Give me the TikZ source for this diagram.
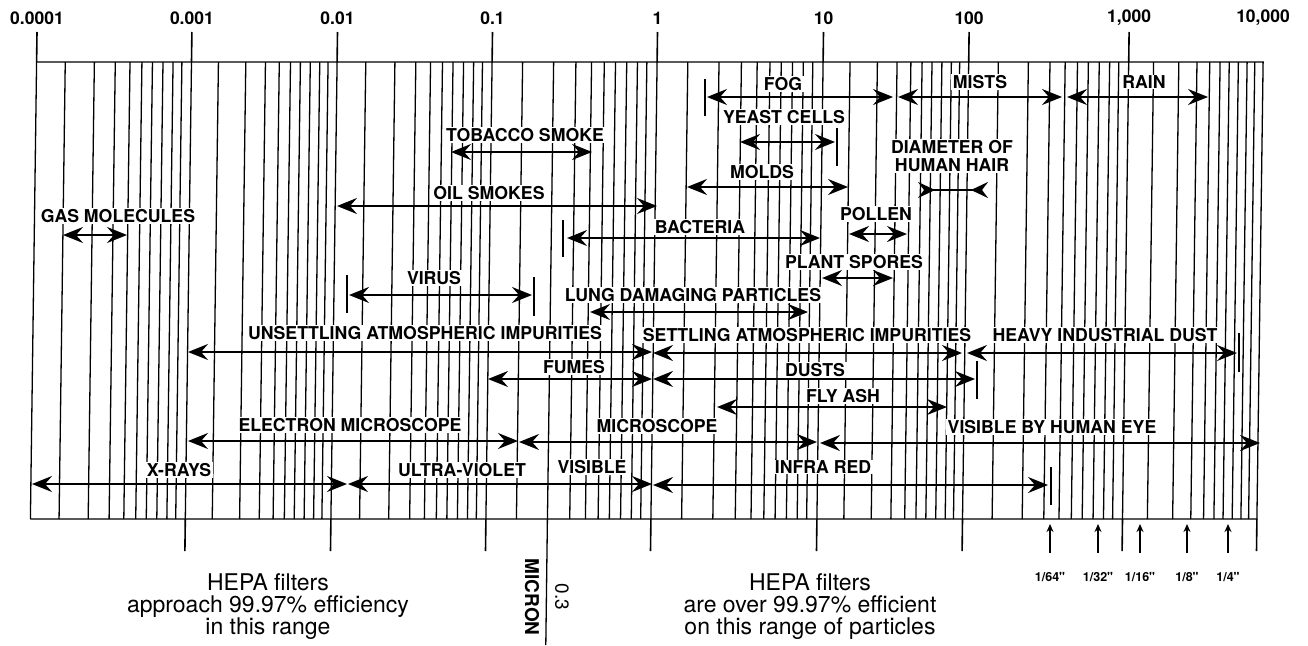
\documentclass[tikz,border=0pt]{standalone}
\usepackage{fontspec}
\setmainfont{TeX Gyre Heros}
\usetikzlibrary{arrows.meta}

\begin{document}
\begin{tikzpicture}[x=1pt,y=-1pt,
  scaleline/.style={line width=1.3pt},
  decadetick/.style={line width=1.6pt},
  rng/.style={line width=2.2pt,{Stealth[length=20pt,width=16pt,inset=7pt]}-{Stealth[length=20pt,width=16pt,inset=7pt]}},
  rngin/.style={line width=2.2pt,{Stealth[length=17pt,width=16pt,inset=6pt,reversed]}-{Stealth[length=17pt,width=16pt,inset=6pt,reversed]}},
  endbar/.style={line width=2.6pt},
  lbl/.style={fill=white,inner xsep=2pt,inner ysep=1pt,font=\bfseries\fontsize{17.7}{18}\selectfont},
  scalelbl/.style={font=\bfseries\fontsize{17.5}{18}\selectfont},
  inchlbl/.style={font=\bfseries\fontsize{12.5}{12}\selectfont},
  note/.style={align=center,font=\fontsize{23}{22}\selectfont}]
\useasboundingbox (0,0) rectangle (1308,645);
% decade lines and the nine lines between them (the chart leans a little)
\foreach \a/\b in {33.5/188.4,188.4/334,334/489,489/654,654/820,820/965.6,965.6/1125.6,1125.6/1260}{
  \draw[scaleline] (\a+3.1,62) -- (\a-3.1,519);
  \foreach \f in {0.185,0.373,0.508,0.603,0.680,0.748,0.816,0.881,0.938}
    \draw[scaleline] ({\a+\f*(\b-\a)+3.1},62) -- ({\a+\f*(\b-\a)-3.1},519);
}
\draw[scaleline] (36.6,62) -- (1263.1,62) -- (1256.9,519) -- (30.4,519);
\draw[scaleline] (547.4,519) -- (545.8,645);
% scale in microns
\foreach \x/\t [count=\i] in {33.5/0.0001,188.4/0.001,334/0.01,489/0.1,654/1,820/10,965.6/100,1125.6/{1,000}}{
  \draw[decadetick] (\x+3.5,32) -- (\x+3.1,62);
  \node[scalelbl] (top\i) at (\x+3.5,18) {\t};
}
\node[scalelbl] (top9) at (1263,18) {10,000};
\foreach \x in {188.4,334,489,654,820,965.6,1125.6,1260}
  \draw[decadetick] (\x-3.1,519) -- (\x-3.5,551);
\node[rotate=-90,font=\bfseries\fontsize{19}{19}\selectfont] (micron) at (532,597) {MICRON};
\node[rotate=-90,font=\fontsize{19}{19}\selectfont] (pt3) at (562,597) {0.3};
% labels
\node[lbl] (fog) at (783,84) {FOG};
\node[lbl] (mists) at (980,82) {MISTS};
\node[lbl] (rain) at (1144,82) {RAIN};
\node[lbl] (yeast) at (784,117) {YEAST CELLS};
\node[lbl] (tobacco) at (525,135) {TOBACCO SMOKE};
\node[lbl,align=center] (hair) at (952,156) {DIAMETER OF\\HUMAN HAIR};
\node[lbl] (molds) at (762,172) {MOLDS};
\node[lbl] (oil) at (489,193) {OIL SMOKES};
\node[lbl] (pollen) at (876,214) {POLLEN};
\node[lbl] (gas) at (118,216) {GAS MOLECULES};
\node[lbl] (bact) at (700,227) {BACTERIA};
\node[lbl] (spores) at (854,262) {PLANT SPORES};
\node[lbl] (virus) at (434,278) {VIRUS};
\node[lbl] (lung) at (693,295) {LUNG DAMAGING PARTICLES};
\node[lbl] (unsett) at (425,333) {UNSETTLING ATMOSPHERIC IMPURITIES};
\node[lbl] (settl) at (807,335) {SETTLING ATMOSPHERIC IMPURITIES};
\node[lbl] (heavy) at (1105,335) {HEAVY INDUSTRIAL DUST};
\node[lbl] (fumes) at (574,367) {FUMES};
\node[lbl] (dusts) at (815,370) {DUSTS};
\node[lbl] (flyash) at (843,396) {FLY ASH};
\node[lbl] (emicro) at (350,425) {ELECTRON MICROSCOPE};
\node[lbl] (micro) at (657,426) {MICROSCOPE};
\node[lbl] (eye) at (1052,427) {VISIBLE BY HUMAN EYE};
\node[lbl] (xray) at (179,470) {X-RAYS};
\node[lbl] (uv) at (462,470) {ULTRA-VIOLET};
\node[lbl] (vis) at (592,467) {VISIBLE};
\node[lbl] (ir) at (823,467) {INFRA RED};
% size ranges
\draw[rng] (707,97) -- (893,97); \draw[endbar] (705,79) -- (705,116);
\draw[rng] (898,97) -- (1062,97);
\draw[rng] (1067,97) -- (1208,97);
\draw[rng] (740,142) -- (835,142); \draw[endbar] (837,128) -- (837,166);
\draw[rng] (451,152) -- (592,152);
\draw[rng] (687,187) -- (848,187);
\draw[rngin] (918,190) -- (988,190);
\draw[rng] (337,206) -- (657,206);
\draw[rng] (63,235) -- (127,235);
\draw[rng] (849,234) -- (907,234);
\draw[rng] (567,238) -- (820,238); \draw[endbar] (563,220) -- (563,257);
\draw[rng] (822,278) -- (893,278);
\draw[rng] (349,295) -- (532,295); \draw[endbar] (347,275) -- (347,313); \draw[endbar] (534,277) -- (534,316);
\draw[rng] (590,312) -- (808,312);
\draw[rng] (188,352) -- (652,352);
\draw[rng] (653,353) -- (962,353);
\draw[rng] (967,353) -- (1237,353); \draw[endbar] (1239,333) -- (1239,372);
\draw[rng] (488,379) -- (652,379);
\draw[rng] (653,379) -- (975,379); \draw[endbar] (977,361) -- (977,399);
\draw[rng] (717,407) -- (947,407);
\draw[rng] (188,441) -- (518,441);
\draw[rng] (519,442) -- (817,442);
\draw[rng] (820,443) -- (1260,443);
\draw[rng] (32,484) -- (347,484);
\draw[rng] (348,484) -- (652,484);
\draw[rng] (653,485) -- (1048,485); \draw[endbar] (1051,467) -- (1051,505);
% inch sizes
\foreach \x/\t [count=\i] in {1050/{1/64},1098/{1/32},1140/{1/16},1187/{1/8},1228/{1/4}}{
  \draw[line width=1.4pt,-{Stealth[length=8pt,width=7pt]}] (\x,553) -- (\x,524);
  \node[inchlbl] (inch\i) at (\x,577) {\t\textquotedbl};
}
\node[note] (hepaL) at (268,607) {HEPA filters\\approach 99.97\% efficiency\\in this range};
\node[note] (hepaR) at (810,607) {HEPA filters\\are over 99.97\% efficient\\on this range of particles};
\end{tikzpicture}
\end{document}
